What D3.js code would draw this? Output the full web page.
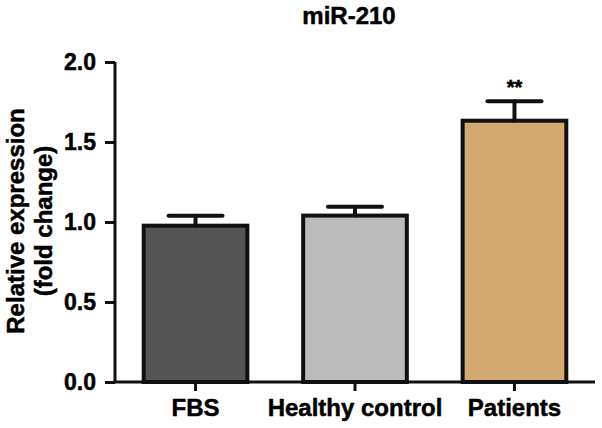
<!DOCTYPE html>
<html><head><meta charset="utf-8">
<script src="https://cdn.jsdelivr.net/npm/d3@7"></script>
<style>body{margin:0;background:#fff}svg{display:block}text{font-family:"Liberation Sans",Arial,sans-serif;font-weight:bold;fill:#000;stroke:#000;stroke-width:0.5px}</style>
</head><body>
<script>
const categories = ["FBS", "Healthy control", "Patients"];
const means = [0.977, 1.04, 1.633];
const errors = [0.062, 0.056, 0.121];
const colors = ["#555555", "#bbbbbb", "#d4a96f"];
const significance = ["", "", "**"];
const yTicks = [0, 0.5, 1.0, 1.5, 2.0];
const title = "miR-210";
const yLabel = ["Relative expression", "(fold change)"];

const W = 602, H = 428;
const svg = d3.select("body").append("svg").attr("width", W).attr("height", H);
const y = d3.scaleLinear().domain([0, 2]).range([382, 62]);
const x = d3.scaleBand().domain(categories).range([115, 595]).paddingInner(0.35).paddingOuter(0.18);

// bars
svg.selectAll("rect.bar").data(categories).enter().append("rect")
  .attr("x", d => x(d)).attr("width", x.bandwidth())
  .attr("y", (d, i) => y(means[i])).attr("height", (d, i) => y(0) - y(means[i]))
  .attr("fill", (d, i) => colors[i]).attr("stroke", "#111").attr("stroke-width", 4);

// error bars
const eb = svg.append("g").attr("stroke", "#111").attr("stroke-width", 4).attr("stroke-linecap", "round");
categories.forEach((c, i) => {
  const cx = x(c) + x.bandwidth() / 2;
  eb.append("line").attr("x1", cx).attr("x2", cx).attr("y1", y(means[i])).attr("y2", y(means[i] + errors[i]));
  eb.append("line").attr("x1", cx - 27).attr("x2", cx + 27).attr("y1", y(means[i] + errors[i])).attr("y2", y(means[i] + errors[i]));
  if (significance[i]) {
    svg.append("text").attr("x", cx).attr("y", y(means[i] + errors[i]) - 7)
      .attr("text-anchor", "middle").attr("font-size", 20).text(significance[i]);
  }
});

// y axis
const ya = svg.append("g").attr("transform", "translate(115,0)")
  .call(d3.axisLeft(y).tickValues(yTicks).tickFormat(d3.format(".1f")).tickSize(10).tickPadding(9));
ya.select(".domain").attr("stroke", "#111").attr("stroke-width", 3).attr("d", `M0,${y(2)}V${y(0)}`);
ya.selectAll(".tick line").attr("stroke", "#111").attr("stroke-width", 3);
ya.selectAll(".tick text").attr("font-size", 23).attr("font-family", "Liberation Sans, Arial").attr("font-weight", "bold").attr("fill", "#000");

// x axis
const xa = svg.append("g").attr("transform", `translate(0,${y(0)})`)
  .call(d3.axisBottom(x).tickSize(9).tickPadding(8));
xa.select(".domain").attr("stroke", "#111").attr("stroke-width", 3).attr("d", "M113,0H595");
xa.selectAll(".tick line").attr("stroke", "#111").attr("stroke-width", 3);
xa.selectAll(".tick text").attr("font-size", 24).attr("font-family", "Liberation Sans, Arial").attr("font-weight", "bold").attr("fill", "#000");

// title
svg.append("text").attr("x", 349).attr("y", 24).attr("text-anchor", "middle").attr("font-size", 24).text(title);

// y label
const yl = svg.append("text").attr("transform", "translate(0,221) rotate(-90)").attr("text-anchor", "middle").attr("font-size", 24);
yl.append("tspan").attr("x", 0).attr("y", 24).text(yLabel[0]);
yl.append("tspan").attr("x", 0).attr("y", 52).text(yLabel[1]);
</script>
</body></html>
